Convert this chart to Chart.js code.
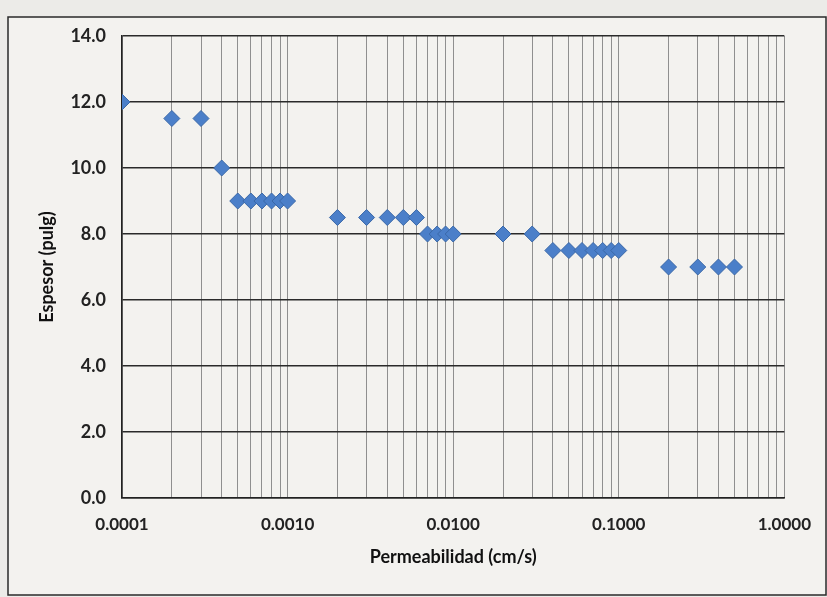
<!DOCTYPE html>
<html>
<head>
<meta charset="utf-8">
<script src="https://cdn.jsdelivr.net/npm/chart.js@4.4.1/dist/chart.umd.min.js"></script>
<style>
html,body{margin:0;padding:0;background:#ecebe8;}
#wrap{width:827px;height:597px;position:relative;}
</style>
</head>
<body>
<div id="wrap"><canvas id="c" width="827" height="597"></canvas></div>
<script>
// Data
const permeabilidad = [0.0001,0.0002,0.0003,0.0004,0.0005,0.0006,0.0007,0.0008,0.0009,0.001,
  0.002,0.003,0.004,0.005,0.006,0.007,0.008,0.009,0.01,0.02,0.03,
  0.04,0.05,0.06,0.07,0.08,0.09,0.1,0.2,0.3,0.4,0.5];
const espesor = [12.0,11.5,11.5,10.0,9.0,9.0,9.0,9.0,9.0,9.0,
  8.5,8.5,8.5,8.5,8.5,8.0,8.0,8.0,8.0,8.0,8.0,
  7.5,7.5,7.5,7.5,7.5,7.5,7.5,7.0,7.0,7.0,7.0];
const xDecades = [0.0001,0.001,0.01,0.1,1];
const yTicks = [0,2,4,6,8,10,12,14];

const points = permeabilidad.map((x,i)=>({x:x,y:espesor[i]}));

const frame = {
  id:'frame',
  beforeDraw(chart){
    const ctx = chart.ctx;
    ctx.save();
    ctx.fillStyle = '#f3f2ef';
    ctx.fillRect(8,17,818,578);
    ctx.strokeStyle = '#2a2a2a';
    ctx.lineWidth = 1.5;
    ctx.strokeRect(8,17,818,578);
    ctx.restore();
  }
};

new Chart(document.getElementById('c'), {
  type:'scatter',
  data:{datasets:[{
    data:points,
    pointStyle:'rectRot',
    pointRadius:8,
    pointHoverRadius:8,
    backgroundColor:'#4b7fc9',
    borderColor:'#3a68a8',
    borderWidth:1
  }]},
  options:{
    responsive:false,
    animation:false,
    plugins:{legend:{display:false},tooltip:{enabled:false}},
    layout:{padding:{left:0,top:36,right:42,bottom:0}},
    scales:{
      x:{
        type:'logarithmic',
        min:0.0001,max:1,
        afterBuildTicks(scale){
          const t=[];
          for(let d=0; d<xDecades.length-1; d++){
            for(let m=1;m<=9;m++){ t.push({value:+(xDecades[d]*m).toPrecision(3)}); }
          }
          t.push({value:xDecades[xDecades.length-1]});
          scale.ticks=t;
        },
        afterFit(scale){ scale.height = 99; },
        ticks:{
          autoSkip:false,maxRotation:0,padding:16,
          color:'#222',
          font:{family:'Lato',size:17,weight:'bold'},
          callback(v){ return xDecades.some(d=>Math.abs(d-v)/d<1e-6) ? Number(v).toFixed(4) : ''; }
        },
        grid:{color:'#8f8f8f',lineWidth:1,drawTicks:false},
        border:{color:'#222',width:1.5},
        title:{display:true,text:'Permeabilidad (cm/s)',color:'#111',
          font:{family:'Lato',size:18,weight:'bold'},padding:{top:0,bottom:29}}
      },
      y:{
        min:0,max:14,
        afterBuildTicks(scale){ scale.ticks = yTicks.map(v=>({value:v})); },
        afterFit(scale){ scale.width = 122; },
        ticks:{
          padding:16,color:'#222',
          font:{family:'Lato',size:18,weight:'bold'},
          callback(v){ return Number(v).toFixed(1); }
        },
        grid:{color:'#2a2a2a',lineWidth:1.5,drawTicks:false},
        border:{color:'#222',width:1.5},
        title:{display:true,text:'Espesor (pulg)',color:'#111',
          font:{family:'Lato',size:18,weight:'bold'},padding:{top:36,bottom:0}}
      }
    }
  },
  plugins:[frame]
});
</script>
</body>
</html>
